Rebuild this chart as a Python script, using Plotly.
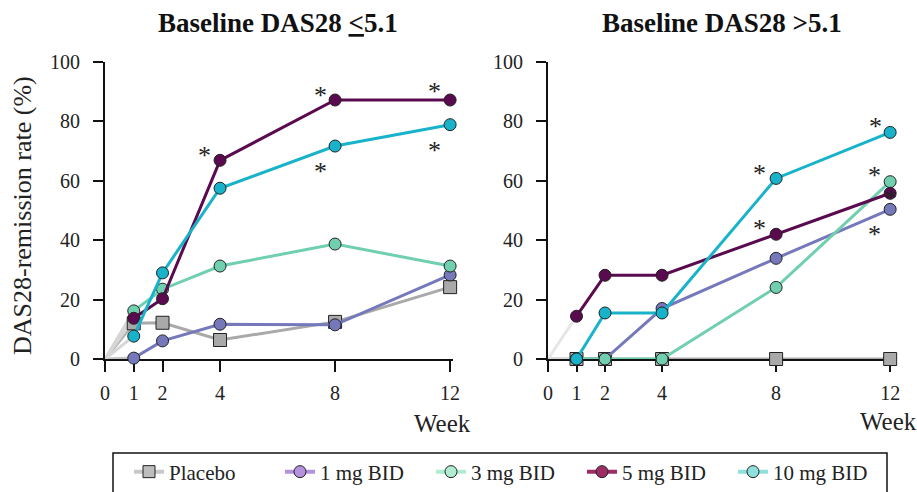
import plotly.graph_objects as go

# ---------------- data ----------------
weeks = [0, 1, 2, 4, 8, 12]
series_names = ["Placebo", "1 mg BID", "3 mg BID", "5 mg BID", "10 mg BID"]

# Baseline DAS28 <=5.1
placebo_le = [0, 12.0, 12.2, 6.4, 12.5, 24.2]
mg1_le = [0, 0.3, 6.1, 11.7, 11.5, 28.3]
mg3_le = [0, 16.2, 23.5, 31.3, 38.7, 31.3]
mg5_le = [0, 13.7, 20.3, 66.9, 87.2, 87.2]
mg10_le = [0, 7.7, 29.0, 57.5, 71.7, 78.9]

# Baseline DAS28 >5.1
placebo_gt = [0, 0, 0, 0, 0, 0]
mg1_gt = [0, 0, 0, 17.0, 33.9, 50.4]
mg3_gt = [0, 0, 0, 0, 24.1, 59.7]
mg5_gt = [0, 14.4, 28.2, 28.2, 42.0, 55.8]
mg10_gt = [0, 0, 15.5, 15.5, 60.8, 76.3]

# significance markers: (series index, week)
sig_le = [(3, 4), (3, 8), (3, 12), (4, 8), (4, 12)]
sig_gt = [(4, 8), (3, 8), (4, 12), (2, 12), (3, 12), (1, 12)]

x_ticks = [0, 1, 2, 4, 8, 12]
y_ticks = [0, 20, 40, 60, 80, 100]

# ---------------- styles ----------------
FONT = "Liberation Serif, Times New Roman, Times, DejaVu Serif, serif"
line_colors = ["#a9a9a9", "#7579bb", "#70cfae", "#5a0a4e", "#18b3cb"]
legend_line_colors = ["#c8c8c8", "#b592dd", "#b0ecd2", "#9c2c66", "#8fe0dc"]
symbols = ["square", "circle", "circle", "circle", "circle"]
start_colors_le = ["#b0b0b0", "#c4c4c4", "#d6d6d6", "#d6d6d6", "#d6d6d6"]
start_colors_gt = ["#d8d8d8", "#d8d8d8", "#d8d8d8", "#e6e6e6", "#d8d8d8"]

# asterisk offsets (px) relative to the marker, per (panel, series, week)
sig_offsets = {
    ("le", 3, 4): (-16, -11), ("le", 3, 8): (-15, -11), ("le", 3, 12): (-16, -15),
    ("le", 4, 8): (-15, 19), ("le", 4, 12): (-16, 20),
    ("gt", 4, 8): (-17, -11), ("gt", 3, 8): (-17, -12), ("gt", 4, 12): (-15, -12),
    ("gt", 2, 12): (-16, -12), ("gt", 3, 12): (0, -1), ("gt", 1, 12): (-16, 19),
}

data_le = [placebo_le, mg1_le, mg3_le, mg5_le, mg10_le]
data_gt = [placebo_gt, mg1_gt, mg3_gt, mg5_gt, mg10_gt]

fig = go.Figure()

def add_panel(data, xa, ya, start_colors):
    # first segment (week 0 -> week 1) drawn in light grey
    for i, vals in enumerate(data):
        fig.add_trace(go.Scatter(
            x=weeks[:2], y=vals[:2], mode="lines", xaxis=xa, yaxis=ya,
            line=dict(color=start_colors[i], width=3), showlegend=False,
            hoverinfo="skip", cliponaxis=False))
    for i, vals in enumerate(data):
        fig.add_trace(go.Scatter(
            x=weeks[1:], y=vals[1:], mode="lines+markers", xaxis=xa, yaxis=ya,
            line=dict(color=line_colors[i], width=3),
            marker=dict(symbol=symbols[i], size=13 if i == 0 else 12,
                        color=line_colors[i], line=dict(color="#222222", width=1)),
            showlegend=False, cliponaxis=False, name=series_names[i]))

add_panel(data_le, "x", "y", start_colors_le)
add_panel(data_gt, "x2", "y2", start_colors_gt)

# legend-only traces
for i, name in enumerate(series_names):
    fig.add_trace(go.Scatter(
        x=[None], y=[None], mode="lines+markers", name=name,
        line=dict(color=legend_line_colors[i], width=4),
        marker=dict(symbol=symbols[i], size=12,
                    color=(legend_line_colors[i] if i else "#bdbdbd"),
                    line=dict(color="#222222", width=1)),
        showlegend=True))

# asterisks
annotations = []
for key, sigs, data, xr, yr in (("le", sig_le, data_le, "x", "y"),
                                 ("gt", sig_gt, data_gt, "x2", "y2")):
    for (si, wk) in sigs:
        val = data[si][weeks.index(wk)]
        dx, dy = sig_offsets[(key, si, wk)]
        annotations.append(dict(
            x=wk, y=val, xref=xr, yref=yr, text="*", showarrow=False,
            xshift=dx, yshift=-dy - 6, font=dict(family=FONT, size=26, color="#222222"),
            xanchor="center", yanchor="middle"))

W, H = 917, 492
def px_x(p):
    return p / W
def px_y(p):
    return (H - p) / H

annotations += [
    dict(text="<b>Baseline DAS28 <u>&lt;</u>5.1</b>", x=px_x(278), y=px_y(23), xref="paper", yref="paper",
         showarrow=False, font=dict(family=FONT, size=27, color="#111111"), xanchor="center", yanchor="middle"),
    dict(text="<b>Baseline DAS28 &gt;5.1</b>", x=px_x(722), y=px_y(23), xref="paper", yref="paper",
         showarrow=False, font=dict(family=FONT, size=27, color="#111111"), xanchor="center", yanchor="middle"),
    dict(text="DAS28-remission rate (%)", x=px_x(23), y=px_y(216), xref="paper", yref="paper",
         showarrow=False, textangle=-90, font=dict(family=FONT, size=26, color="#222222"),
         xanchor="center", yanchor="middle"),
    dict(text="Week", x=px_x(442), y=px_y(423), xref="paper", yref="paper", showarrow=False,
         font=dict(family=FONT, size=25, color="#222222"), xanchor="center", yanchor="middle"),
    dict(text="Week", x=px_x(888), y=px_y(421), xref="paper", yref="paper", showarrow=False,
         font=dict(family=FONT, size=25, color="#222222"), xanchor="center", yanchor="middle"),
]

xaxis_common = dict(range=[0, 12.1], tickvals=x_ticks, ticks="outside", ticklen=11, tickwidth=2,
                    tickcolor="#111111", showline=True, linewidth=2, linecolor="#111111",
                    showgrid=False, zeroline=False, layer="below traces",
                    tickfont=dict(family=FONT, size=20, color="#222222"), ticklabelstandoff=4)
yaxis_common = dict(range=[0, 100], tickvals=y_ticks, ticks="outside", ticklen=10, tickwidth=2,
                    tickcolor="#111111", showline=True, linewidth=2, linecolor="#111111",
                    showgrid=False, zeroline=False, layer="below traces",
                    tickfont=dict(family=FONT, size=20, color="#222222"), ticklabelstandoff=9)

fig.update_layout(
    width=W, height=H, margin=dict(l=0, r=0, t=0, b=0, autoexpand=False),
    paper_bgcolor="white", plot_bgcolor="white",
    font=dict(family=FONT),
    xaxis=dict(domain=[px_x(105), px_x(453)], anchor="y", **xaxis_common),
    yaxis=dict(domain=[px_y(359), px_y(62)], anchor="x", **yaxis_common),
    xaxis2=dict(domain=[px_x(548), px_x(893)], anchor="y2", **xaxis_common),
    yaxis2=dict(domain=[px_y(359), px_y(62)], anchor="x2", **yaxis_common),
    annotations=annotations,
    showlegend=True,
    legend=dict(orientation="h", x=px_x(129), y=px_y(472), xanchor="left", yanchor="middle",
                font=dict(family=FONT, size=21, color="#222222"), bgcolor="rgba(0,0,0,0)",
                entrywidth=106, entrywidthmode="pixels", tracegroupgap=0, borderwidth=0),
    shapes=[dict(type="rect", xref="paper", yref="paper", x0=px_x(113), x1=px_x(887),
                 y0=-0.2, y1=px_y(453), line=dict(color="#111111", width=1.5))],
    hovermode=False,
)

fig.write_html("out.html", config={"displayModeBar": False, "staticPlot": True},
               post_script="document.body.style.margin='0px';")
